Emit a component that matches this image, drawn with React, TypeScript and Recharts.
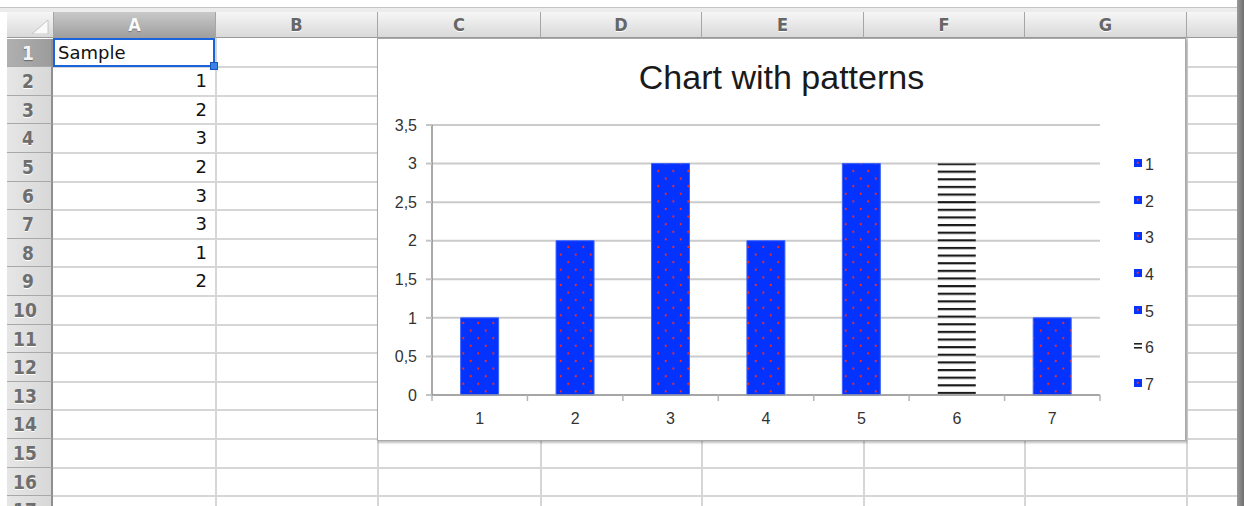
import React from "react";
import {
  BarChart,
  Bar,
  XAxis,
  YAxis,
  CartesianGrid,
  Legend,
  Cell,
} from "recharts";

// chart data
const categories = ["1", "2", "3", "4", "5", "6", "7"];
const values = [1, 2, 3, 2, 3, 3, 1];
const fills = ["dots", "dots", "dots", "dots", "dots", "lines", "dots"];
const yTicks = [0, 0.5, 1, 1.5, 2, 2.5, 3, 3.5];
const chartTitle = "Chart with patterns";

// sheet contents
const sheetHeader = "Sample";
const sheetValues = [1, 2, 3, 2, 3, 3, 1, 2];
const columnNames = ["A", "B", "C", "D", "E", "F", "G", ""];
const rowCount = 17;

const data = categories.map((name, i) => ({ name, value: values[i], fill: fills[i] }));

const colEdges = [53, 215, 377, 540, 701, 863, 1024, 1186, 1237];
const ROW_TOP = 38.6;
const ROW_H = 28.6;
const BLUE = "#0433ff";
const CHART_FONT = "'Liberation Sans', Arial, sans-serif";
const SHEET_FONT = "'DejaVu Sans', sans-serif";
const HEAD_FONT = "'DejaVu Sans Condensed', 'DejaVu Sans', sans-serif";

function CatTick(props: any) {
  const { x, y, payload, index } = props;
  const off = payload?.offset ?? 47.7;
  const axisY = y - 18;
  return (
    <g>
      <line x1={x - off} x2={x - off} y1={axisY} y2={axisY + 6} stroke="#b4b4b4" strokeWidth={1.5} />
      {index === categories.length - 1 && (
        <line x1={x + off} x2={x + off} y1={axisY} y2={axisY + 6} stroke="#b4b4b4" strokeWidth={1.5} />
      )}
      <text x={x} y={y} dy="0.71em" textAnchor="middle" fill="#333" fontSize={16} fontFamily={CHART_FONT}>
        {payload.value}
      </text>
    </g>
  );
}

const renderLegend = () => (
  <div style={{ width: 60, paddingLeft: 34, boxSizing: "border-box", fontFamily: CHART_FONT }}>
    {categories.map((c, i) => (
      <div key={c} style={{ height: 36.6, display: "flex", alignItems: "center", fontSize: 16, color: "#333" }}>
        <svg width={9} height={8} style={{ marginRight: 2, marginTop: -4 }}>
          {fills[i] === "lines" ? (
            <>
              <rect x={0} y={1} width={8} height={1.6} fill="#222" />
              <rect x={0} y={5} width={8} height={1.6} fill="#222" />
            </>
          ) : (
            <rect x={0} y={0} width={8} height={8} fill="url(#dots)" />
          )}
        </svg>
        <span>{c}</span>
      </div>
    ))}
  </div>
);

function Sheet() {
  const rows = Array.from({ length: rowCount }, (_, i) => i + 1);
  return (
    <>
      {/* toolbar remnant */}
      <div style={{ position: "absolute", left: 0, top: 7, width: 1244, height: 1, background: "#c4c4c4" }} />
      <div style={{ position: "absolute", left: 0, top: 8, width: 1244, height: 4, background: "#ececec" }} />
      {/* column header band */}
      <div
        style={{
          position: "absolute", left: 7, top: 12, width: 1230, height: 26,
          background: "linear-gradient(#f6f6f6, #d9d9d9)", borderBottom: "1px solid #9a9a9a",
          boxSizing: "border-box",
        }}
      />
      <svg style={{ position: "absolute", left: 30, top: 18 }} width={20} height={16}>
        <polygon points="18,2 18,16 2,16" fill="#fafafa" stroke="#bdbdbd" strokeWidth={0.8} />
      </svg>
      {columnNames.map((c, i) => (
        <div
          key={"h" + i}
          style={{
            position: "absolute", left: colEdges[i], top: 12, width: colEdges[i + 1] - colEdges[i], height: 26,
            background: i === 0 ? "linear-gradient(#c9c9c9, #9e9e9e)" : undefined,
            borderLeft: "1px solid #a6a6a6", boxSizing: "border-box",
            textAlign: "center", lineHeight: "26px", fontFamily: HEAD_FONT, fontWeight: 700, fontSize: 18,
            color: i === 0 ? "#fafafa" : "#666",
            textShadow: i === 0 ? "0 1px 1px #777" : "0 1px 0 #fff",
          }}
        >
          {c}
        </div>
      ))}
      {/* row headers */}
      {rows.map((r) => (
        <div
          key={"r" + r}
          style={{
            position: "absolute", left: 7, top: ROW_TOP + (r - 1) * ROW_H, width: 46, height: ROW_H,
            background: r === 1 ? "linear-gradient(90deg, #b0b0b0, #9c9c9c)" : "linear-gradient(90deg, #e6e6e6, #d8d8d8)",
            borderBottom: "1px solid #a8a8a8", borderRight: "2px solid #8f8f8f", boxSizing: "border-box",
            paddingLeft: 4, lineHeight: ROW_H + "px", textAlign: "left",
            fontFamily: HEAD_FONT, fontWeight: 700, fontSize: 19,
            color: r === 1 ? "#f4f4f4" : "#6e6e6e",
            textShadow: r === 1 ? "0 1px 1px #666" : "0 1px 0 #fff",
          }}
        >
          <span style={{ display: "inline-block", width: 34, textAlign: r < 10 ? "center" : "left", paddingLeft: r < 10 ? 0 : 2 }}>{r}</span>
        </div>
      ))}
      {/* grid lines */}
      {rows.map((r) => (
        <div
          key={"gl" + r}
          style={{ position: "absolute", left: 53, top: ROW_TOP + r * ROW_H - 1, width: 1184, height: 2, background: "#d6d6d6" }}
        />
      ))}
      {colEdges.slice(1, -1).map((x) => (
        <div key={"gv" + x} style={{ position: "absolute", left: x, top: 38, width: 2, height: 468, background: "#d6d6d6" }} />
      ))}
      {/* scrollbar edge */}
      <div style={{ position: "absolute", left: 1237, top: 0, width: 7, height: 506, background: "linear-gradient(90deg, #9a9a9a, #6f6f6f)" }} />
      {/* cells */}
      <div
        style={{
          position: "absolute", left: 58, top: ROW_TOP, height: ROW_H, lineHeight: ROW_H + "px",
          fontFamily: SHEET_FONT, fontSize: 18, color: "#111",
        }}
      >
        {sheetHeader}
      </div>
      {sheetValues.map((v, i) => (
        <div
          key={"v" + i}
          style={{
            position: "absolute", left: 53, width: 154, top: ROW_TOP + (i + 1) * ROW_H, height: ROW_H,
            lineHeight: ROW_H + "px", textAlign: "right", fontFamily: SHEET_FONT, fontSize: 18, color: "#111",
          }}
        >
          {v}
        </div>
      ))}
      {/* selection */}
      <div
        style={{
          position: "absolute", left: 53, top: 38, width: 162, height: 29,
          border: "2px solid #1b63dc", boxSizing: "border-box",
        }}
      />
      <div
        style={{
          position: "absolute", left: 210, top: 62, width: 8, height: 8,
          background: "#3b82e6", border: "1px solid #1b55c0", boxSizing: "border-box",
        }}
      />
    </>
  );
}

export default function App() {
  return (
    <div
      style={{
        position: "absolute", left: 0, top: 0, width: 1244, height: 506,
        overflow: "hidden", background: "#fff",
      }}
    >
      <svg width={0} height={0} style={{ position: "absolute" }}>
        <defs>
          <pattern id="dots" patternUnits="userSpaceOnUse" width={15} height={15.2}>
            <rect x={0} y={0} width={15} height={15.2} fill={BLUE} />
            <circle cx={3.8} cy={3.8} r={1.1} fill="#ff2a10" />
            <circle cx={11.3} cy={11.4} r={1.1} fill="#ff2a10" />
          </pattern>
          <pattern id="lines" patternUnits="userSpaceOnUse" y={2.9} width={10} height={7.63}>
            <rect x={0} y={0} width={10} height={7.63} fill="#fff" />
            <rect x={0} y={0} width={10} height={2.2} fill="#1a1a1a" />
          </pattern>
        </defs>
      </svg>
      <Sheet />
      <div
        style={{
          position: "absolute", left: 377, top: 38, width: 809, height: 403,
          background: "#fff", border: "1px solid #a9a9a9", boxSizing: "border-box",
          boxShadow: "1px 2px 2px rgba(0,0,0,0.25)",
        }}
      >
        <div
          style={{
            position: "absolute", left: -1, top: 21, width: 809, textAlign: "center",
            fontFamily: CHART_FONT, fontSize: 34, lineHeight: "34px", color: "#1a1a1a",
          }}
        >
          {chartTitle}
        </div>
        <div style={{ position: "absolute", left: -1, top: -1 }}>
          <BarChart
            width={809}
            height={403}
            data={data}
            margin={{ top: 87, right: 26, left: 0, bottom: 16 }}
            barCategoryGap="30%"
          >
            <CartesianGrid vertical={false} stroke="#cbcbcb" strokeWidth={2} />
            <XAxis
              dataKey="name"
              axisLine={{ stroke: "#9a9a9a", strokeWidth: 1.5 }}
              tickLine={false}
              tick={<CatTick />}
              tickSize={6}
              tickMargin={12}
              height={30}
              interval={0}
            />
            <YAxis
              type="number"
              domain={[0, 3.5]}
              ticks={yTicks}
              interval={0}
              width={55}
              tickSize={6}
              tickMargin={9}
              tickFormatter={(v: number) => String(v).replace(".", ",")}
              axisLine={{ stroke: "#8c8c8c", strokeWidth: 1.5 }}
              tickLine={{ stroke: "#c4c4c4", strokeWidth: 2 }}
              tick={{ fill: "#333", fontSize: 16, fontFamily: CHART_FONT }}
            />
            <Legend
              layout="vertical"
              align="right"
              verticalAlign="top"
              width={60}
              wrapperStyle={{ top: 109 }}
              content={renderLegend}
            />
            <Bar dataKey="value" isAnimationActive={false}>
              {data.map((d) => (
                <Cell
                  key={d.name}
                  fill={`url(#${d.fill})`}
                  stroke={d.fill === "dots" ? "#3d63ff" : "none"}
                  strokeWidth={1}
                />
              ))}
            </Bar>
          </BarChart>
        </div>
      </div>
    </div>
  );
}
